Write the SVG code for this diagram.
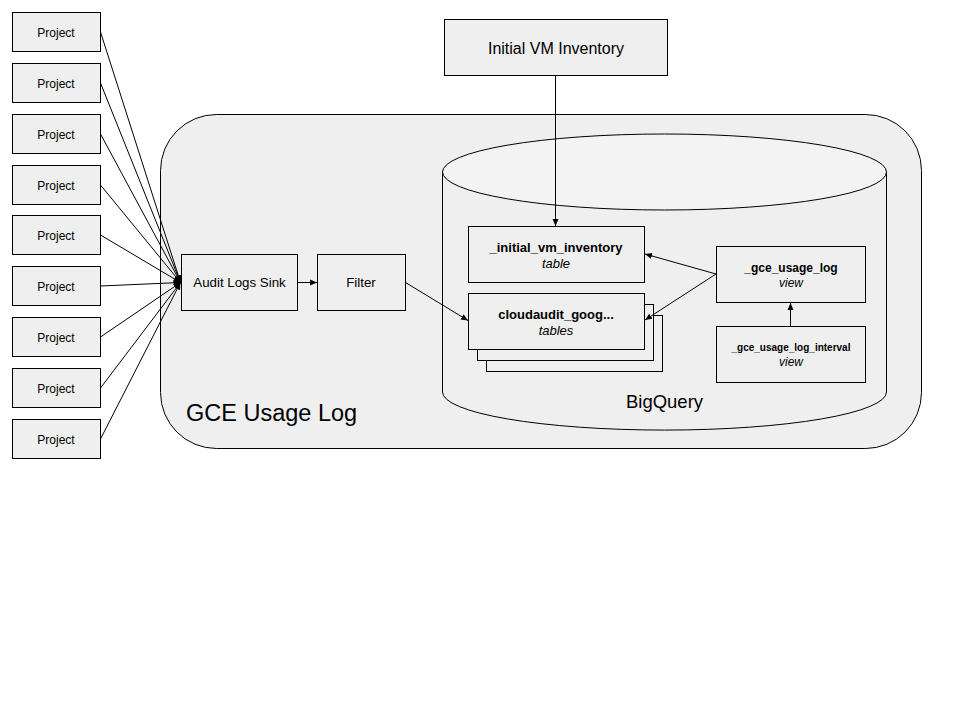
<svg xmlns="http://www.w3.org/2000/svg" width="960" height="720" viewBox="0 0 960 720">
<defs>
<marker id="ah" markerWidth="8" markerHeight="8" refX="7" refY="4" orient="auto" markerUnits="userSpaceOnUse">
<path d="M0,1 L7,4 L0,7 Z" fill="#000"/>
</marker>
<style>
.box{fill:#efefef;stroke:#000;stroke-width:1}
.t{font-family:"Liberation Sans",Arial,sans-serif;fill:#000;text-anchor:middle}
.c{stroke:#000;stroke-width:1;fill:none}
</style>
</defs>
<rect width="960" height="720" fill="#fff"/>
<g id="gce-usage-log">
<rect x="160.5" y="114.5" width="761" height="334" rx="56" ry="56" class="box"/>
<text x="186" y="421" class="t" style="text-anchor:start;font-size:23.5px">GCE Usage Log</text>
</g>
<g id="bigquery">
<path d="M442.5,172 L442.5,392 A221.5,38 0 0 0 886.5,392 L886.5,172" class="box"/>
<ellipse cx="664.5" cy="172" rx="222" ry="38" fill="#f3f3f3" stroke="#000"/>
<text x="664.5" y="407.5" class="t" style="font-size:18.5px">BigQuery</text>
</g>
<g id="projects">
<g id="p1"><rect x="12.5" y="12.5" width="88" height="39" class="box"/><text x="56" y="36.5" class="t" style="font-size:12px">Project</text></g>
<g id="p2"><rect x="12.5" y="63.5" width="88" height="39" class="box"/><text x="56" y="87.5" class="t" style="font-size:12px">Project</text></g>
<g id="p3"><rect x="12.5" y="114.5" width="88" height="39" class="box"/><text x="56" y="138.5" class="t" style="font-size:12px">Project</text></g>
<g id="p4"><rect x="12.5" y="165.5" width="88" height="39" class="box"/><text x="56" y="189.5" class="t" style="font-size:12px">Project</text></g>
<g id="p5"><rect x="12.5" y="215.5" width="88" height="39" class="box"/><text x="56" y="240" class="t" style="font-size:12px">Project</text></g>
<g id="p6"><rect x="12.5" y="266.5" width="88" height="39" class="box"/><text x="56" y="291" class="t" style="font-size:12px">Project</text></g>
<g id="p7"><rect x="12.5" y="317.5" width="88" height="39" class="box"/><text x="56" y="341.5" class="t" style="font-size:12px">Project</text></g>
<g id="p8"><rect x="12.5" y="368.5" width="88" height="39" class="box"/><text x="56" y="392.5" class="t" style="font-size:12px">Project</text></g>
<g id="p9"><rect x="12.5" y="419.5" width="88" height="39" class="box"/><text x="56" y="443.5" class="t" style="font-size:12px">Project</text></g>
</g>
<g id="initial-vm-inventory">
<rect x="444.5" y="19.5" width="223" height="56" class="box"/>
<text x="556" y="53.5" class="t" style="font-size:16px">Initial VM Inventory</text>
</g>
<g id="audit-logs-sink">
<rect x="181.5" y="254.5" width="116" height="56" class="box"/>
<text x="239.5" y="287" class="t" style="font-size:13.3px">Audit Logs Sink</text>
</g>
<g id="filter">
<rect x="317.5" y="254.5" width="88" height="56" class="box"/>
<text x="361" y="287" class="t" style="font-size:13.3px">Filter</text>
</g>
<g id="initial-vm-inventory-table">
<rect x="468.5" y="226.5" width="176" height="56" class="box"/>
<text x="556" y="251.5" class="t" style="font-size:13px;font-weight:bold">_initial_vm_inventory</text>
<text x="556" y="267.5" class="t" style="font-size:13px;font-style:italic">table</text>
</g>
<g id="cloudaudit-tables">
<rect x="486.5" y="315.5" width="176" height="56" class="box"/>
<rect x="477.5" y="304.5" width="176" height="56" class="box"/>
<rect x="468.5" y="293.5" width="176" height="56" class="box"/>
<text x="556" y="318.5" class="t" style="font-size:13px;font-weight:bold">cloudaudit_goog...</text>
<text x="556" y="334.5" class="t" style="font-size:13px;font-style:italic">tables</text>
</g>
<g id="gce-usage-log-view">
<rect x="716.5" y="246.5" width="149" height="56" class="box"/>
<text x="791" y="271.5" class="t" style="font-size:12px;font-weight:bold">_gce_usage_log</text>
<text x="791" y="286.5" class="t" style="font-size:12px;font-style:italic">view</text>
</g>
<g id="gce-usage-log-interval-view">
<rect x="716.5" y="326.5" width="149" height="56" class="box"/>
<text x="791" y="351" class="t" style="font-size:10px;font-weight:bold">_gce_usage_log_interval</text>
<text x="791" y="366" class="t" style="font-size:12px;font-style:italic">view</text>
</g>
<g id="connectors">
<line x1="100.5" y1="32" x2="180.5" y2="282.5" class="c" marker-end="url(#ah)"/>
<line x1="100.5" y1="83" x2="180.5" y2="282.5" class="c" marker-end="url(#ah)"/>
<line x1="100.5" y1="134" x2="180.5" y2="282.5" class="c" marker-end="url(#ah)"/>
<line x1="100.5" y1="185" x2="180.5" y2="282.5" class="c" marker-end="url(#ah)"/>
<line x1="100.5" y1="235" x2="180.5" y2="282.5" class="c" marker-end="url(#ah)"/>
<line x1="100.5" y1="286" x2="180.5" y2="282.5" class="c" marker-end="url(#ah)"/>
<line x1="100.5" y1="337" x2="180.5" y2="282.5" class="c" marker-end="url(#ah)"/>
<line x1="100.5" y1="388" x2="180.5" y2="282.5" class="c" marker-end="url(#ah)"/>
<line x1="100.5" y1="439" x2="180.5" y2="282.5" class="c" marker-end="url(#ah)"/>
<line x1="297.5" y1="282.5" x2="317" y2="282.5" class="c" marker-end="url(#ah)"/>
<line x1="405.5" y1="282.5" x2="468" y2="320.5" class="c" marker-end="url(#ah)"/>
<line x1="555.5" y1="75.5" x2="555.5" y2="226" class="c" marker-end="url(#ah)"/>
<line x1="716" y1="274" x2="645" y2="254" class="c" marker-end="url(#ah)"/>
<line x1="716" y1="274" x2="645" y2="320" class="c" marker-end="url(#ah)"/>
<line x1="790.5" y1="326.5" x2="790.5" y2="303" class="c" marker-end="url(#ah)"/>
</g>
</svg>
